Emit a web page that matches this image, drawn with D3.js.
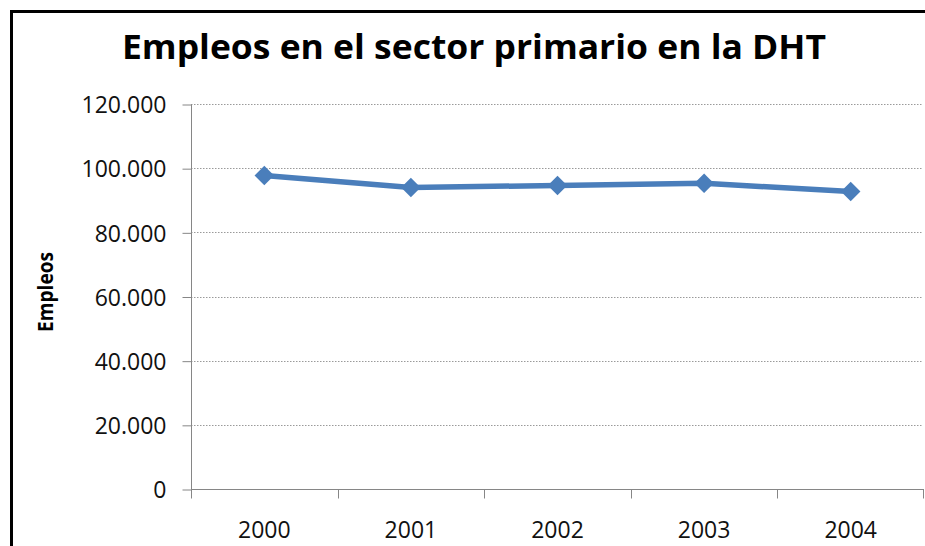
<!DOCTYPE html>
<html>
<head>
<meta charset="utf-8">
<script src="https://cdn.jsdelivr.net/npm/d3@7"></script>
<style>
  html, body { margin: 0; padding: 0; background: #fff; overflow: hidden; }
  svg { display: block; overflow: hidden; }
</style>
</head>
<body>
<svg id="chart" width="925" height="546"></svg>
<script>
const years = ["2000", "2001", "2002", "2003", "2004"];
const empleos = [97700, 94000, 94600, 95300, 92700];
const yTicks = [0, 20000, 40000, 60000, 80000, 100000, 120000];
const titleText = "Empleos en el sector primario en la DHT";
const yAxisTitle = "Empleos";

const svg = d3.select("#chart");
const W = 925, H = 546;
const plot = { left: 191, right: 924, top: 104, bottom: 489 };
const blue = "#4A7EBB";
const axisGray = "#868686";

svg.append("rect").attr("width", W).attr("height", H).attr("fill", "#fff");

// chart border (only top and left visible; the rest is cropped off)
svg.append("line")
  .attr("x1", 11.5).attr("x2", 11.5).attr("y1", 10).attr("y2", H)
  .attr("stroke", "#000").attr("stroke-width", 3);
svg.append("line")
  .attr("x1", 10).attr("x2", W).attr("y1", 11.5).attr("y2", 11.5)
  .attr("stroke", "#000").attr("stroke-width", 3);

const x = d3.scaleBand().domain(years).range([plot.left, plot.right]).padding(0);
const y = d3.scaleLinear().domain([0, 120000]).range([plot.bottom, plot.top]);

const locale = d3.formatLocale({ decimal: ",", thousands: ".", grouping: [3], currency: ["", "€"] });
const fmt = locale.format(",d");

// gridlines
svg.append("g")
  .selectAll("line")
  .data(yTicks.filter(d => d > 0))
  .join("line")
  .attr("x1", plot.left).attr("x2", plot.right - 1)
  .attr("y1", d => Math.round(y(d)) + 0.5).attr("y2", d => Math.round(y(d)) + 0.5)
  .attr("stroke", "#9a9a9a").attr("stroke-width", 1)
  .attr("stroke-dasharray", "1.5,1.5");

// y axis
const yAxis = svg.append("g")
  .attr("transform", `translate(${plot.left + 0.5},0.5)`)
  .call(d3.axisLeft(y).tickValues(yTicks).tickFormat(d => fmt(d)).tickSize(9).tickPadding(16));
yAxis.selectAll(".tick line").attr("stroke", axisGray);
yAxis.selectAll(".tick text")
  .attr("font-family", "'Open Sans', sans-serif").attr("font-size", 23)
  .attr("fill", "#111").attr("dy", "0.36em");
yAxis.select(".domain").attr("stroke", axisGray).attr("d", `M0,${plot.top}V${plot.bottom}`);

// x axis
const xAxisG = svg.append("g").attr("transform", `translate(0,${Math.round(plot.bottom) + 0.5})`);
xAxisG.append("line")
  .attr("x1", plot.left).attr("x2", plot.right)
  .attr("stroke", axisGray).attr("stroke-width", 1);
const edges = years.map(d => x(d)).concat([plot.right - 1]);
xAxisG.selectAll("line.xt")
  .data(edges)
  .join("line").attr("class", "xt")
  .attr("x1", d => Math.round(d) + 0.5).attr("x2", d => Math.round(d) + 0.5)
  .attr("y1", 0).attr("y2", 9)
  .attr("stroke", axisGray);
xAxisG.selectAll("text")
  .data(years)
  .join("text")
  .attr("x", d => x(d) + x.bandwidth() / 2)
  .attr("y", 48)
  .attr("text-anchor", "middle")
  .attr("font-family", "'Open Sans', sans-serif").attr("font-size", 23)
  .attr("fill", "#111")
  .text(d => d);

// line
const pts = years.map((d, i) => ({ year: d, value: empleos[i] }));
svg.append("path")
  .datum(pts)
  .attr("fill", "none")
  .attr("stroke", blue).attr("stroke-width", 5.5)
  .attr("stroke-linejoin", "round")
  .attr("d", d3.line().x(d => x(d.year) + x.bandwidth() / 2).y(d => y(d.value)));

// markers
const diamond = d3.symbol().type(d3.symbolSquare).size(190);
svg.append("g")
  .selectAll("path")
  .data(pts)
  .join("path")
  .attr("transform", d => `translate(${x(d.year) + x.bandwidth() / 2},${y(d.value)}) rotate(45)`)
  .attr("d", diamond)
  .attr("fill", blue);

// title
svg.append("text")
  .attr("x", 474).attr("y", 59)
  .attr("text-anchor", "middle")
  .attr("font-family", "'Open Sans', sans-serif").attr("font-weight", "bold")
  .attr("font-size", 34)
  .attr("textLength", 704).attr("lengthAdjust", "spacingAndGlyphs")
  .attr("fill", "#000")
  .text(titleText);

// y axis title
svg.append("text")
  .attr("transform", "translate(53,292) rotate(-90)")
  .attr("text-anchor", "middle")
  .attr("font-family", "'Open Sans', sans-serif").attr("font-weight", "bold")
  .attr("font-size", 22)
  .attr("textLength", 80).attr("lengthAdjust", "spacingAndGlyphs")
  .attr("fill", "#000")
  .text(yAxisTitle);
</script>
</body>
</html>
